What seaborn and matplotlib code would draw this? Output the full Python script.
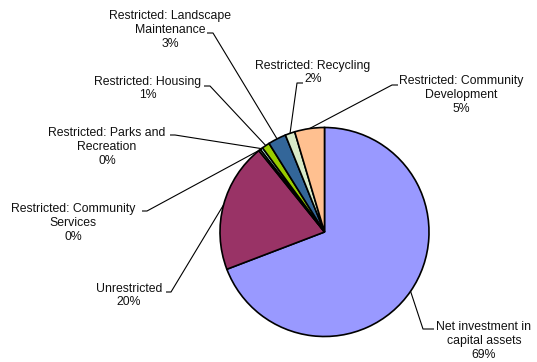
import numpy as np
import seaborn as sns
import matplotlib
matplotlib.use("Agg")
import matplotlib.pyplot as plt

# slices, clockwise from 12 o'clock
labels = ["Net investment in\ncapital assets", "Unrestricted",
          "Restricted: Community\nServices", "Restricted: Parks and\nRecreation",
          "Restricted: Housing", "Restricted: Landscape\nMaintenance",
          "Restricted: Recycling", "Restricted: Community\nDevelopment"]
values = [69.2, 20.0, 0.3, 0.4, 1.2, 2.8, 1.5, 4.6]
colors = ["#9999FF", "#993366", "#FFFFCC", "#CCFFFF",
          "#99CC00", "#336699", "#D9EAC8", "#FFC090"]

sns.set_style("white")
plt.rcParams['font.family'] = ['Liberation Sans', 'DejaVu Sans']

W, H = 537, 362
fig = plt.figure(figsize=(W / 100, H / 100), dpi=100)
ax = fig.add_axes([0, 0, 1, 1])

cx, cy, r = 324.5, H - 232, 104.5
wedges, _ = ax.pie(values, colors=colors, startangle=90, counterclock=False,
                   center=(cx, cy), radius=r,
                   wedgeprops=dict(edgecolor="black", linewidth=1.2))
ax.set_xlim(0, W)
ax.set_ylim(0, H)
ax.set_aspect("equal")
ax.axis("off")

# label layout in pixel coords (top-left origin): text centre, leader tick (inner, outer)
text_pos = [(484, 341), (129, 295.5), (73, 223), (107, 147),
            (148, 88.5), (170, 30), (313, 72.5), (461, 95)]
ticks = [((423, 329), (434, 329)), ((171, 292), (166, 292)),
         ((147, 211), (142, 211)), ((175, 135), (170, 135)),
         ((210, 86), (204, 86)), ((213, 33), (207, 33)),
         ((297, 83), (303, 83)), ((392, 85), (398, 85))]

for w, lab, v, (tx, ty), (p_in, p_out) in zip(wedges, labels, values, text_pos, ticks):
    ang = np.deg2rad((w.theta1 + w.theta2) / 2)
    ex, ey = cx + r * np.cos(ang), cy + r * np.sin(ang)
    ax.plot([ex, p_in[0], p_out[0]], [ey, H - p_in[1], H - p_out[1]],
            color="black", linewidth=0.8, solid_capstyle="butt")
    ax.text(tx, H - ty, f"{lab}\n{v:.0f}%", ha="center", va="center",
            fontsize=8.8, linespacing=1.22, color="#111111")

fig.savefig("out.png", dpi=100)
